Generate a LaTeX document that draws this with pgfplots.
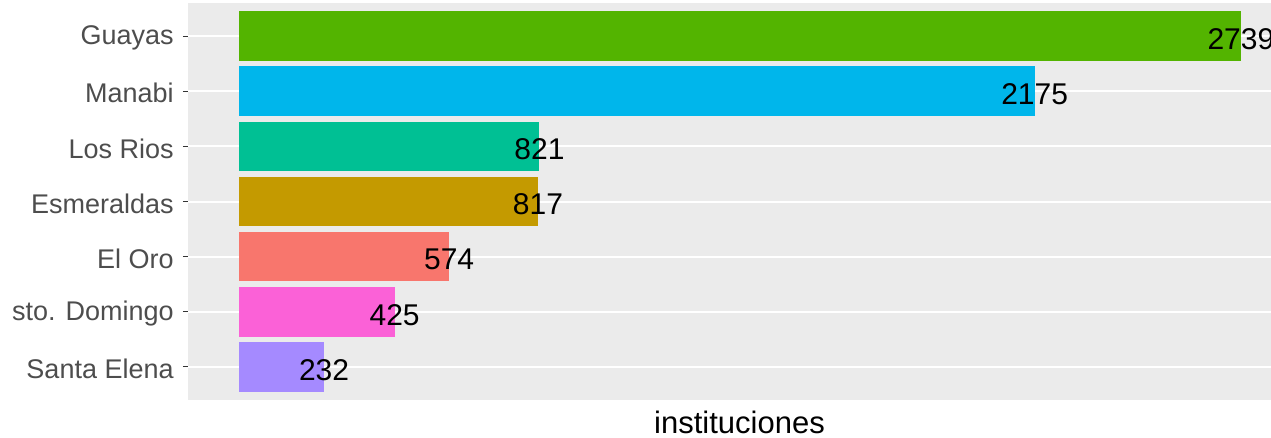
\documentclass[border=0pt]{standalone}
\usepackage{pgfplots}
\pgfplotsset{compat=1.18}
\usepackage{fontspec}
\setmainfont{Liberation Sans}
\definecolor{panel}{HTML}{EBEBEB}
\definecolor{tickc}{HTML}{333333}
\definecolor{labc}{HTML}{4D4D4D}
\definecolor{cGuayas}{HTML}{53B400}
\definecolor{cManabi}{HTML}{00B6EB}
\definecolor{cRios}{HTML}{00C094}
\definecolor{cEsme}{HTML}{C49A00}
\definecolor{cOro}{HTML}{F8766D}
\definecolor{cDom}{HTML}{FB61D7}
\definecolor{cElena}{HTML}{A58AFF}
\begin{document}
\begin{tikzpicture}
\useasboundingbox (-94pt,-19pt) rectangle (541.5pt,200pt);
\clip (-94pt,-19pt) rectangle (541.5pt,200pt);
\begin{scope}[overlay]
\begin{axis}[
 at={(0pt,0pt)}, anchor=south west,
 scale only axis, width=551.5pt, height=198.5pt,
 xmin=-140, xmax=2876, ymin=-0.6, ymax=6.6,
 xtick=\empty,
 ytick={0,...,6},
 yticklabels={Santa Elena, sto. Domingo, El Oro, Esmeraldas, Los Rios, Manabi, Guayas},
 axis line style={draw=none},
 axis background/.style={fill=panel},
 ymajorgrids, major grid style={white, line width=1pt},
 tick align=outside, ytick pos=left, major tick length=2.5pt,
 tick style={color=tickc, line width=0.55pt},
 yticklabel style={font=\fontsize{13.5}{16}\selectfont, text=labc, inner sep=0pt, xshift=-4.5pt, yshift=-1pt},
 xlabel={instituciones},
 xlabel style={at={(axis description cs:0.5,0)}, anchor=base, yshift=-17pt, font=\fontsize{15.5}{18}\selectfont, inner sep=0pt},
 xbar, bar width=0.9,
 point meta=x,
 nodes near coords={\pgfmathprintnumber[assume math mode=true,1000 sep={}]{\pgfplotspointmeta}},
 every node near coord/.append style={anchor=center, font=\fontsize{15}{18}\selectfont, text=black, inner sep=0pt, yshift=-1.5pt},
]
\addplot[fill=cGuayas, draw=none, bar shift=0pt] coordinates {(2739,6)};
\addplot[fill=cManabi, draw=none, bar shift=0pt] coordinates {(2175,5)};
\addplot[fill=cRios, draw=none, bar shift=0pt] coordinates {(821,4)};
\addplot[fill=cEsme, draw=none, bar shift=0pt] coordinates {(817,3)};
\addplot[fill=cOro, draw=none, bar shift=0pt] coordinates {(574,2)};
\addplot[fill=cDom, draw=none, bar shift=0pt] coordinates {(425,1)};
\addplot[fill=cElena, draw=none, bar shift=0pt] coordinates {(232,0)};
\end{axis}
\end{scope}
\end{tikzpicture}
\end{document}
